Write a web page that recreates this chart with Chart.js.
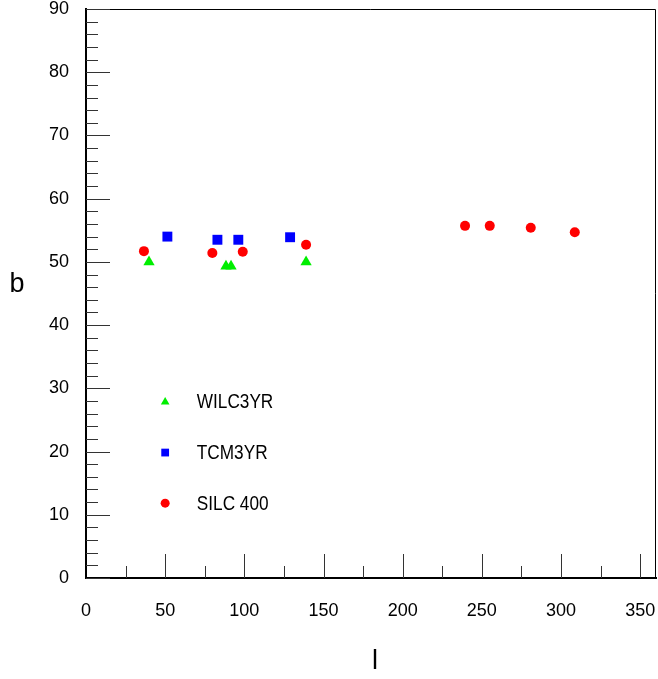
<!DOCTYPE html>
<html>
<head>
<meta charset="utf-8">
<script src="https://cdn.jsdelivr.net/npm/chart.js@4/dist/chart.umd.min.js"></script>
<style>
  html, body { margin: 0; padding: 0; background: #fff; }
  #wrap { width: 658px; height: 679px; position: relative; }
</style>
</head>
<body>
<div id="wrap"><canvas id="chart"></canvas></div>
<script>
  'use strict';

  // Galactic longitude / latitude
  const wilcL = [39.8, 88.4, 91.6, 139.0];
  const wilcB = [50.0, 49.3, 49.3, 50.0];

  const tcmL = [51.4, 83.0, 96.2, 128.9];
  const tcmB = [54.0, 53.5, 53.5, 53.9];

  const silcL = [36.6, 79.8, 99.0, 139.0, 239.4, 255.0, 280.9, 308.7];
  const silcB = [51.7, 51.4, 51.6, 52.7, 55.7, 55.7, 55.4, 54.7];

  const seriesNames = ['WILC3YR', 'TCM3YR', 'SILC 400'];
  const legendL = 50;
  const legendTextL = 70;
  const legendB = [28, 20, 12];

  const FONT = "'Liberation Sans', Arial, sans-serif";

  function toPoints(xs, ys) {
    return xs.map(function (x, i) { return { x: x, y: ys[i] }; });
  }

  const datasets = [
    { label: seriesNames[0], data: toPoints(wilcL, wilcB), pointStyle: 'triangle', pointRadius: 6.5,
      backgroundColor: '#00ee00', borderColor: '#00ee00', borderWidth: 0 },
    { label: seriesNames[1], data: toPoints(tcmL, tcmB), pointStyle: 'rect', pointRadius: 7,
      backgroundColor: '#0000ff', borderColor: '#0000ff', borderWidth: 0 },
    { label: seriesNames[2], data: toPoints(silcL, silcB), pointStyle: 'circle', pointRadius: 5,
      backgroundColor: '#ff0000', borderColor: '#ff0000', borderWidth: 0 }
  ];

  // Frame, inner tick marks, axis titles and the in-plot legend
  const framePlugin = {
    id: 'frame',
    afterDraw: function (chart) {
      const ctx = chart.ctx;
      const a = chart.chartArea;
      const xs = chart.scales.x;
      const ys = chart.scales.y;
      ctx.save();

      // thin top and right frame
      ctx.strokeStyle = '#000';
      ctx.lineWidth = 1;
      ctx.beginPath();
      ctx.moveTo(a.left, a.top + 0.5);
      ctx.lineTo(a.right - 0.5, a.top + 0.5);
      ctx.lineTo(a.right - 0.5, a.bottom);
      ctx.stroke();

      // y ticks every 2, longer every 10
      ctx.strokeStyle = '#333';
      for (let v = 0; v <= 90; v += 2) {
        const py = Math.round(ys.getPixelForValue(v)) + 0.5;
        const len = (v % 10 === 0) ? 24 : 12;
        ctx.beginPath();
        ctx.moveTo(a.left, py);
        ctx.lineTo(a.left + len, py);
        ctx.stroke();
      }
      // x ticks every 25, longer every 50
      for (let v = 25; v <= 350; v += 25) {
        const px = Math.round(xs.getPixelForValue(v)) + 0.5;
        const len = (v % 50 === 0) ? 24 : 12;
        ctx.beginPath();
        ctx.moveTo(px, a.bottom);
        ctx.lineTo(px, a.bottom - len);
        ctx.stroke();
      }

      // axis titles
      ctx.fillStyle = '#000';
      ctx.font = '27px ' + FONT;
      ctx.textAlign = 'center';
      ctx.textBaseline = 'middle';
      ctx.fillText('b', 17, 285);
      ctx.fillText('l', 375, 662);

      // legend (text squeezed a little to match the narrow original face)
      const styles = ['triangle', 'rect', 'circle'];
      const radii = [5, 5.5, 4.5];
      ctx.font = '20px ' + FONT;
      ctx.textAlign = 'left';
      for (let i = 0; i < seriesNames.length; i++) {
        const mx = xs.getPixelForValue(legendL);
        const my = ys.getPixelForValue(legendB[i]);
        const col = datasets[i].backgroundColor;
        ctx.fillStyle = col;
        ctx.strokeStyle = col;
        Chart.helpers.drawPoint(ctx, { pointStyle: styles[i], radius: radii[i], borderWidth: 0, rotation: 0 }, mx, my + 1);
        ctx.fillStyle = '#000';
        ctx.save();
        ctx.translate(xs.getPixelForValue(legendTextL), my + 2);
        ctx.scale(0.86, 1);
        ctx.fillText(seriesNames[i], 0, 0);
        ctx.restore();
      }
      ctx.restore();
    }
  };

  new Chart(document.getElementById('chart'), {
    type: 'scatter',
    data: { datasets: datasets },
    options: {
      responsive: true,
      maintainAspectRatio: false,
      animation: false,
      layout: { autoPadding: false, padding: { left: 0, right: 2, top: 9, bottom: 0 } },
      plugins: {
        legend: { display: false },
        tooltip: { enabled: false }
      },
      scales: {
        x: {
          type: 'linear',
          min: 0,
          max: 360,
          afterFit: function (scale) {
            scale.height = 101;
            scale.paddingLeft = 0;
            scale.paddingRight = 0;
          },
          grid: { display: false, drawTicks: false },
          border: { display: true, color: '#000', width: 2 },
          ticks: {
            stepSize: 50,
            includeBounds: false,
            autoSkip: false,
            padding: 22,
            color: '#000',
            font: { family: FONT, size: 18 },
            maxRotation: 0
          }
        },
        y: {
          type: 'linear',
          min: 0,
          max: 90,
          afterFit: function (scale) {
            scale.width = 86;
            scale.paddingTop = 0;
            scale.paddingBottom = 0;
          },
          grid: { display: false, drawTicks: false },
          border: { display: true, color: '#000', width: 2 },
          ticks: {
            stepSize: 10,
            padding: 17,
            color: '#000',
            font: { family: FONT, size: 18 }
          }
        }
      }
    },
    plugins: [framePlugin]
  });
</script>
</body>
</html>
